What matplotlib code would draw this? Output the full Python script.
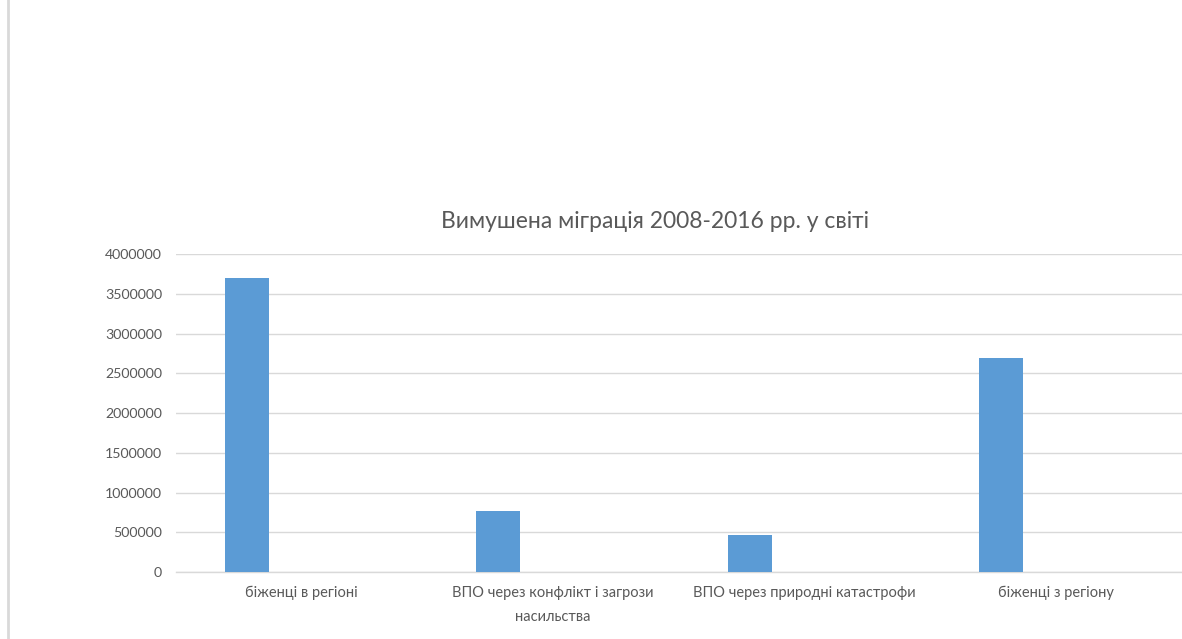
import numpy as np
import matplotlib
matplotlib.use("Agg")
import matplotlib.pyplot as plt
from matplotlib.lines import Line2D

categories = [
    "біженці в регіоні",
    "ВПО через конфлікт і загрози\nнасильства",
    "ВПО через природні катастрофи",
    "біженці з регіону",
]
values = [3700000, 767000, 465000, 2690000]
yticks = [0, 500000, 1000000, 1500000, 2000000, 2500000, 3000000, 3500000, 4000000]

TEXT = "#595959"
GRID = "#d9d9d9"
BAR = "#5b9bd5"

plt.rcParams["font.family"] = ["Lato", "DejaVu Sans"]

fig = plt.figure(figsize=(11.82, 6.39), dpi=100)
ax = fig.add_axes([176 / 1182, 1 - 572 / 639, 1 - 176 / 1182, (572 - 254) / 639])

x = np.arange(len(categories))
ax.bar(x - 0.218, values, width=0.175, color=BAR, zorder=3)

ax.set_xlim(-0.5, len(categories) - 0.5)
ax.set_ylim(0, 4000000)
ax.set_yticks(yticks)
ax.set_yticklabels([str(v) for v in yticks], fontsize=10.2, color=TEXT)
ax.set_xticks(x)
ax.set_xticklabels(categories, fontsize=10.5, color=TEXT, linespacing=1.9)
ax.tick_params(axis="both", length=0)
ax.tick_params(axis="y", pad=10)
ax.tick_params(axis="x", pad=10)
ax.grid(True, axis="y", color=GRID, linewidth=1, zorder=0)
for s in ("top", "right", "left"):
    ax.spines[s].set_visible(False)
ax.spines["bottom"].set_color(GRID)
ax.spines["bottom"].set_linewidth(1)

fig.text(655 / 1182, 1 - 222 / 639, "Вимушена міграція 2008-2016 рр. у світі",
         ha="center", va="center", fontsize=16.5, color=TEXT)

# left frame line of the chart area
fig.add_artist(Line2D([7.5 / 1182, 7.5 / 1182], [0, 1], transform=fig.transFigure,
                      color=GRID, linewidth=2))

fig.savefig("out.png", dpi=100)
